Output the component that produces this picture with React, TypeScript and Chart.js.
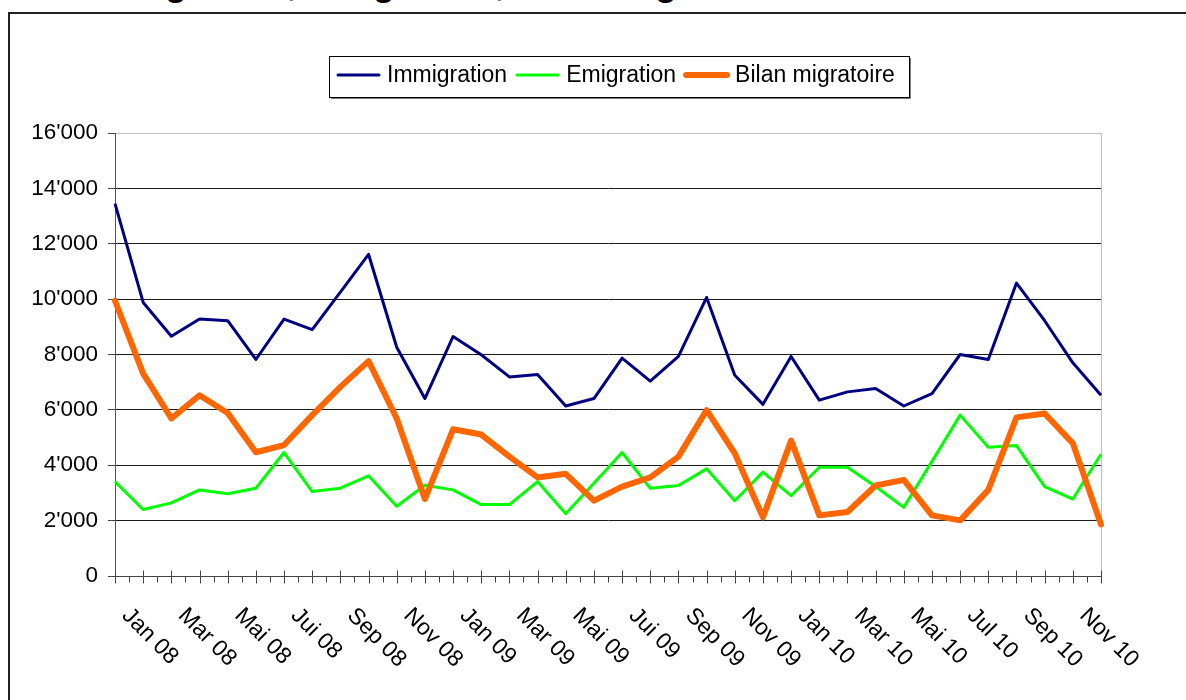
import React, { useEffect, useRef } from 'react';
import { Chart, registerables } from 'chart.js';

Chart.register(...registerables);

const months = [
  'Jan 08', 'Fév 08', 'Mar 08', 'Avr 08', 'Mai 08', 'Jun 08', 'Jui 08', 'Aoû 08', 'Sep 08', 'Oct 08', 'Nov 08', 'Déc 08',
  'Jan 09', 'Fév 09', 'Mar 09', 'Avr 09', 'Mai 09', 'Jun 09', 'Jui 09', 'Aoû 09', 'Sep 09', 'Oct 09', 'Nov 09', 'Déc 09',
  'Jan 10', 'Fév 10', 'Mar 10', 'Avr 10', 'Mai 10', 'Jun 10', 'Jul 10', 'Aoû 10', 'Sep 10', 'Oct 10', 'Nov 10', 'Déc 10',
];

const immigration = [
  13450, 9880, 8660, 9280, 9220, 7820, 9280, 8900, 10250, 11620, 8260, 6410,
  8650, 7990, 7190, 7280, 6140, 6410, 7870, 7040, 7930, 10060, 7250, 6200,
  7930, 6350, 6650, 6770, 6140, 6590, 8000, 7820, 10580, 9220, 7700, 6530,
];

const emigration = [
  3410, 2400, 2640, 3110, 2970, 3170, 4460, 3050, 3170, 3620, 2520, 3280,
  3110, 2580, 2580, 3410, 2250, 3350, 4460, 3170, 3270, 3870, 2720, 3750,
  2900, 3930, 3930, 3230, 2480, 4140, 5810, 4650, 4710, 3230, 2780, 4400,
];

const bilan = [
  9940, 7310, 5690, 6530, 5890, 4470, 4730, 5810, 6830, 7760, 5690, 2780,
  5300, 5110, 4310, 3560, 3690, 2720, 3230, 3560, 4310, 5990, 4430, 2120,
  4890, 2190, 2310, 3270, 3470, 2190, 2010, 3110, 5730, 5870, 4790, 1860,
];

const seriesNames = ['Immigration', 'Emigration', 'Bilan migratoire'];
const titleText = 'Immigration, Emigration, Bilan migratoire';
const yMin = 0;
const yMax = 16000;
const yStep = 2000;

const FONT = "'Liberation Sans', Arial, sans-serif";

function fmt(v: number): string {
  if (v === 0) return '0';
  const s = String(Math.round(v));
  return s.replace(/\B(?=(\d{3})+(?!\d))/g, "'");
}

export default function App() {
  const ref = useRef<HTMLCanvasElement>(null);

  useEffect(() => {
    if (!ref.current) return;

    const deco = {
      id: 'excelDeco',
      beforeDatasetsDraw(chart: any) {
        const { ctx, chartArea: a } = chart;
        ctx.save();
        ctx.strokeStyle = '#c0c0c0';
        ctx.lineWidth = 1;
        ctx.beginPath();
        ctx.moveTo(Math.round(a.right) + 0.5, a.top);
        ctx.lineTo(Math.round(a.right) + 0.5, a.bottom);
        ctx.stroke();
        ctx.restore();
      },
      afterDraw(chart: any) {
        const ctx = chart.ctx;
        const xs = chart.scales.x;
        const ys = chart.scales.y;
        const y0 = Math.round(ys.getPixelForValue(0)) + 0.5;
        ctx.save();
        // x axis line
        ctx.strokeStyle = '#444';
        ctx.lineWidth = 1;
        ctx.beginPath();
        ctx.moveTo(chart.chartArea.left, y0);
        ctx.lineTo(chart.chartArea.right, y0);
        ctx.stroke();
        // tick marks
        for (let i = 0; i < months.length; i++) {
          const px = Math.round(xs.getPixelForValue(i)) + 0.5;
          ctx.beginPath();
          ctx.moveTo(px, y0 - 6);
          ctx.lineTo(px, y0 + 7);
          ctx.stroke();
          if (i < months.length - 1) {
            const mx = Math.round((xs.getPixelForValue(i) + xs.getPixelForValue(i + 1)) / 2) + 0.5;
            ctx.beginPath();
            ctx.moveTo(mx, y0);
            ctx.lineTo(mx, y0 + 6);
            ctx.stroke();
          }
        }
        // rotated labels
        ctx.fillStyle = '#000';
        ctx.font = `23px ${FONT}`;
        ctx.textAlign = 'left';
        ctx.textBaseline = 'alphabetic';
        for (let i = 0; i < months.length; i += 2) {
          const px = xs.getPixelForValue(i);
          ctx.save();
          ctx.translate(px + 6, y0 + 40);
          ctx.rotate(Math.PI / 4);
          ctx.fillText(months[i], 0, 0);
          ctx.restore();
        }
        // legend box
        const bx = 329, by = 56, bw = 580, bh = 41;
        ctx.fillStyle = '#fff';
        ctx.fillRect(bx, by, bw, bh);
        ctx.strokeStyle = '#000';
        ctx.lineWidth = 1;
        ctx.strokeRect(bx + 0.5, by + 0.5, bw, bh);
        ctx.strokeStyle = '#777';
        ctx.beginPath();
        ctx.moveTo(bx + bw + 1.5, by + 2);
        ctx.lineTo(bx + bw + 1.5, by + bh + 1.5);
        ctx.lineTo(bx + 2, by + bh + 1.5);
        ctx.stroke();
        let x = 337;
        const ly = 75;
        ctx.font = `23px ${FONT}`;
        ctx.textBaseline = 'middle';
        chart.data.datasets.forEach((ds: any) => {
          ctx.strokeStyle = ds.borderColor;
          ctx.lineWidth = ds.borderWidth;
          ctx.lineCap = 'round';
          ctx.beginPath();
          ctx.moveTo(x + 1, ly);
          ctx.lineTo(x + 42, ly);
          ctx.stroke();
          ctx.fillStyle = '#000';
          ctx.fillText(ds.label, x + 50, ly + 1);
          x = x + 50 + ctx.measureText(ds.label).width + 9;
        });
        ctx.restore();
      },
    };

    const chart = new Chart(ref.current, {
      type: 'line',
      data: {
        labels: months,
        datasets: [
          {
            label: seriesNames[0],
            data: immigration,
            borderColor: '#000080',
            backgroundColor: '#000080',
            borderWidth: 3,
            pointRadius: 0,
            tension: 0,
            borderJoinStyle: 'round',
            order: 2,
          },
          {
            label: seriesNames[1],
            data: emigration,
            borderColor: '#00ff00',
            backgroundColor: '#00ff00',
            borderWidth: 3,
            pointRadius: 0,
            tension: 0,
            borderJoinStyle: 'round',
            order: 1,
          },
          {
            label: seriesNames[2],
            data: bilan,
            borderColor: '#ff6600',
            backgroundColor: '#ff6600',
            borderWidth: 6,
            pointRadius: 0,
            tension: 0,
            borderJoinStyle: 'round',
            borderCapStyle: 'round',
            order: 0,
          },
        ],
      },
      options: {
        responsive: false,
        animation: false,
        layout: { padding: { left: 0, top: 133, right: 85, bottom: 0 } },
        plugins: {
          legend: { display: false },
          title: { display: false },
          tooltip: { enabled: false },
        },
        scales: {
          x: {
            type: 'category',
            offset: false,
            grid: { display: false },
            border: { display: false },
            ticks: { display: false },
            afterFit: (s: any) => {
              s.height = 124;
            },
          },
          y: {
            min: yMin,
            max: yMax,
            ticks: {
              stepSize: yStep,
              color: '#000',
              padding: 10,
              font: { family: FONT, size: 22.5 },
              callback: (v: any) => fmt(Number(v)),
            },
            grid: {
              color: (c: any) => (c.tick && c.tick.value === yMax ? '#c0c0c0' : '#1a1a1a'),
              lineWidth: 1,
              tickLength: 7,
              tickColor: '#444',
            },
            border: { display: true, color: '#555', width: 1 },
            afterFit: (s: any) => {
              s.width = 115;
            },
          },
        },
      },
      plugins: [deco],
    } as any);

    return () => chart.destroy();
  }, []);

  return (
    <div style={{ position: 'absolute', left: 0, top: 0, width: 1186, height: 700, overflow: 'hidden', background: '#fff' }}>
      <div
        style={{
          position: 'absolute',
          left: 81,
          top: -35,
          font: `bold 36px ${FONT}`,
          lineHeight: '36px',
          whiteSpace: 'nowrap',
          color: '#000',
        }}
      >
        {titleText}
      </div>
      <div
        style={{
          position: 'absolute',
          left: 8,
          top: 12,
          width: 1300,
          height: 800,
          border: '2px solid #222',
          boxSizing: 'border-box',
        }}
      />
      <canvas ref={ref} width={1186} height={700} style={{ position: 'absolute', left: 0, top: 0, width: 1186, height: 700 }} />
    </div>
  );
}
